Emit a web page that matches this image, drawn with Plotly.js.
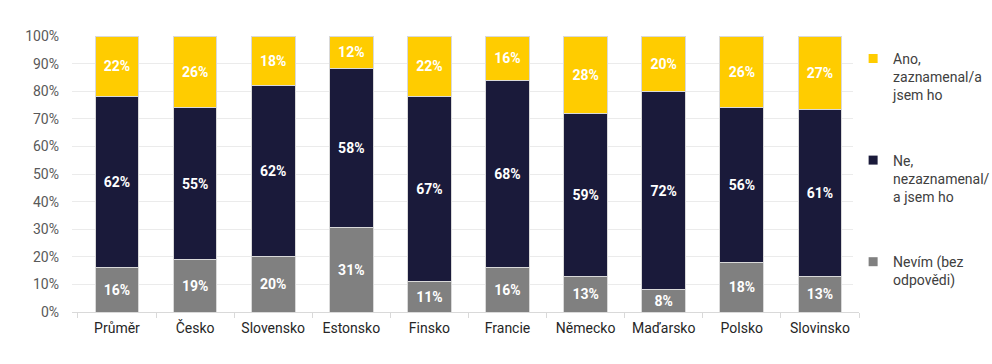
<!DOCTYPE html>
<html><head><meta charset="utf-8">
<script src="https://cdn.plot.ly/plotly-3.0.1.min.js"></script>
<style>body{margin:0;background:#fff}#c{width:992px;height:364px}</style>
</head><body><div id="c"></div>
<script>
const categories = ["Průměr","Česko","Slovensko","Estonsko","Finsko","Francie","Německo","Maďarsko","Polsko","Slovinsko"];
const nevim = [16,19,20,31,11,16,13,8,18,13];
const ne = [62,55,62,58,67,68,59,72,56,61];
const ano = [22,26,18,12,22,16,28,20,26,27];
const names = ["Nevím (bez<br>odpovědi)","Ne,<br>nezaznamenal/<br>a jsem ho","Ano,<br>zaznamenal/a<br>jsem ho"];
const colors = ["#808080","#1a1a3a","#ffcc00"];
const series = [nevim, ne, ano];
const traces = series.map((vals,i)=>({
  type:'bar', x:categories, y:vals, name:names[i], showlegend:false,
  marker:{color:colors[i], line:{color:'#d9d9d9', width:1}},
  text: vals.map(v=>v+'%'), textposition:'inside', insidetextanchor:'middle',
  textfont:{color:'#ffffff', size:14, family:'Roboto, sans-serif', weight:700},
  hoverinfo:'none'
}));
const legendTraces = [2,1,0].map(i=>({
  type:'scatter', mode:'markers', x:[categories[0]], y:[null], name:names[i], legendgroup:'g'+i,
  marker:{color:colors[i], symbol:'square', size:9}, showlegend:true, hoverinfo:'none'
}));
Plotly.newPlot('c', traces.concat(legendTraces), {
  width:992, height:364, barmode:'stack', barnorm:'percent', bargap:0.44,
  margin:{l:72, r:133, t:36, b:52, autoexpand:false},
  paper_bgcolor:'#fff', plot_bgcolor:'#fff',
  font:{family:'Roboto, sans-serif', size:14, color:'#595959'},
  xaxis:{showline:true, linecolor:'#d9d9d9', ticks:'outside', tickson:'boundaries', ticklen:5, tickcolor:'#d9d9d9',
         ticklabelstandoff:3, tickfont:{size:14, color:'#262626'}},
  yaxis:{range:[0,100], dtick:10, ticksuffix:'%', showgrid:true, gridcolor:'#ebebeb', zeroline:false,
         ticklabelstandoff:12, tickfont:{size:14, color:'#595959'}},
  showlegend:true,
  legend:{x:0.86, xref:'container', xanchor:'left', y:0.975, yanchor:'top', traceorder:'grouped', tracegroupgap:44,
          font:{size:14, color:'#404040'}, valign:'top', itemwidth:30}
}, {staticPlot:true});
</script></body></html>
